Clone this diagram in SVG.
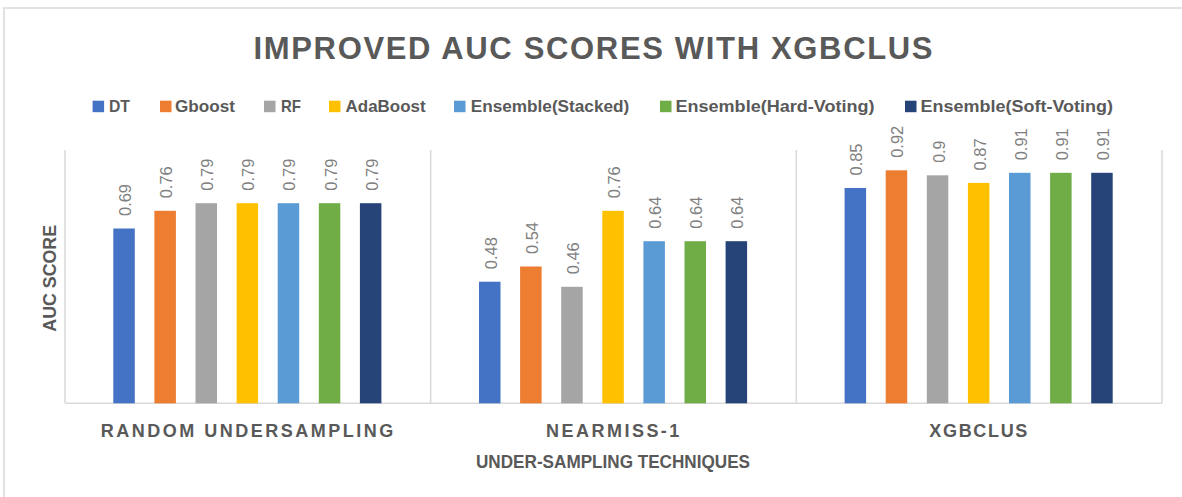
<svg xmlns="http://www.w3.org/2000/svg" width="1182" height="497" viewBox="0 0 1182 497">
<style>
.frame{fill:#fff;stroke:#d9d9d9;stroke-width:1.5}
.ax{stroke:#d9d9d9;stroke-width:1.5;fill:none}
.title{font-family:"Liberation Sans",Arial,sans-serif;font-weight:bold;font-size:31px;fill:#595959}
.leg{font-family:"Liberation Sans",Arial,sans-serif;font-weight:bold;font-size:17px;fill:#595959}
.cat{font-family:"Liberation Sans",Arial,sans-serif;font-weight:bold;font-size:18px;fill:#595959}
.axt{font-family:"Liberation Sans",Arial,sans-serif;font-weight:bold;font-size:18px;fill:#595959}
.val{font-family:"Liberation Sans",Arial,sans-serif;font-size:17px;fill:#808080}
.dt{fill:#4472C4}.gb{fill:#ED7D31}.rf{fill:#A5A5A5}.ada{fill:#FFC000}.st{fill:#5B9BD5}.hv{fill:#70AD47}.sv{fill:#264478}
</style>
<rect class="frame" x="4" y="8" width="1200" height="500"/>
<g id="title"><text class="title" x="593" y="59.3" text-anchor="middle" textLength="679" lengthAdjust="spacing">IMPROVED AUC SCORES WITH XGBCLUS</text></g>
<g id="legend">
<rect class="dt" x="92.6" y="100.7" width="11.5" height="11.5"/><text class="leg" x="109" y="112.3" textLength="21" lengthAdjust="spacingAndGlyphs">DT</text>
<rect class="gb" x="160" y="100.7" width="11.5" height="11.5"/><text class="leg" x="175" y="112.3" textLength="60" lengthAdjust="spacingAndGlyphs">Gboost</text>
<rect class="rf" x="264" y="100.7" width="11.5" height="11.5"/><text class="leg" x="281" y="112.3" textLength="20" lengthAdjust="spacingAndGlyphs">RF</text>
<rect class="ada" x="329" y="100.7" width="11.5" height="11.5"/><text class="leg" x="345.6" y="112.3" textLength="80" lengthAdjust="spacingAndGlyphs">AdaBoost</text>
<rect class="st" x="454" y="100.7" width="11.5" height="11.5"/><text class="leg" x="470.7" y="112.3" textLength="158.6" lengthAdjust="spacingAndGlyphs">Ensemble(Stacked)</text>
<rect class="hv" x="660" y="100.7" width="11.5" height="11.5"/><text class="leg" x="675.5" y="112.3" textLength="199" lengthAdjust="spacingAndGlyphs">Ensemble(Hard-Voting)</text>
<rect class="sv" x="905" y="100.7" width="11.5" height="11.5"/><text class="leg" x="920.5" y="112.3" textLength="192.5" lengthAdjust="spacingAndGlyphs">Ensemble(Soft-Voting)</text>
</g>
<g id="axes">
<path class="ax" d="M65,150V403.3M430.67,150V403.3M796.33,150V403.3M1162,150V403.3M65,403.3H1162"/>
<text class="axt" transform="translate(56,278.3) rotate(-90)" text-anchor="middle" textLength="106.7" lengthAdjust="spacingAndGlyphs" font-size="21">AUC SCORE</text>
<text class="cat" x="247" y="436.7" text-anchor="middle" textLength="292.6" lengthAdjust="spacing">RANDOM UNDERSAMPLING</text>
<text class="cat" x="612.7" y="436.7" text-anchor="middle" textLength="133.3" lengthAdjust="spacing">NEARMISS-1</text>
<text class="cat" x="978.3" y="436.7" text-anchor="middle" textLength="98" lengthAdjust="spacing">XGBCLUS</text>
<text class="axt" x="613" y="468.3" text-anchor="middle" textLength="274" lengthAdjust="spacingAndGlyphs">UNDER-SAMPLING TECHNIQUES</text>
</g>
<g id="cat-random-undersampling">
<rect class="dt" x="113.3" y="228.5" width="21.5" height="174.8"/>
<rect class="gb" x="154.4" y="210.8" width="21.5" height="192.5"/>
<rect class="rf" x="195.5" y="203.2" width="21.5" height="200.1"/>
<rect class="ada" x="236.6" y="203.2" width="21.5" height="200.1"/>
<rect class="st" x="277.7" y="203.2" width="21.5" height="200.1"/>
<rect class="hv" x="318.8" y="203.2" width="21.5" height="200.1"/>
<rect class="sv" x="359.9" y="203.2" width="21.5" height="200.1"/>
<text class="val" transform="translate(131.05,216) rotate(-90)" textLength="32" lengthAdjust="spacingAndGlyphs">0.69</text>
<text class="val" transform="translate(172.15,198.3) rotate(-90)" textLength="32" lengthAdjust="spacingAndGlyphs">0.76</text>
<text class="val" transform="translate(213.25,190.7) rotate(-90)" textLength="32" lengthAdjust="spacingAndGlyphs">0.79</text>
<text class="val" transform="translate(254.35,190.7) rotate(-90)" textLength="32" lengthAdjust="spacingAndGlyphs">0.79</text>
<text class="val" transform="translate(295.45,190.7) rotate(-90)" textLength="32" lengthAdjust="spacingAndGlyphs">0.79</text>
<text class="val" transform="translate(336.55,190.7) rotate(-90)" textLength="32" lengthAdjust="spacingAndGlyphs">0.79</text>
<text class="val" transform="translate(377.65,190.7) rotate(-90)" textLength="32" lengthAdjust="spacingAndGlyphs">0.79</text>
</g>
<g id="cat-nearmiss-1">
<rect class="dt" x="479" y="281.7" width="21.5" height="121.6"/>
<rect class="gb" x="520.1" y="266.5" width="21.5" height="136.8"/>
<rect class="rf" x="561.2" y="286.8" width="21.5" height="116.5"/>
<rect class="ada" x="602.3" y="210.8" width="21.5" height="192.5"/>
<rect class="st" x="643.4" y="241.2" width="21.5" height="162.1"/>
<rect class="hv" x="684.5" y="241.2" width="21.5" height="162.1"/>
<rect class="sv" x="725.6" y="241.2" width="21.5" height="162.1"/>
<text class="val" transform="translate(496.75,269.2) rotate(-90)" textLength="32" lengthAdjust="spacingAndGlyphs">0.48</text>
<text class="val" transform="translate(537.85,254) rotate(-90)" textLength="32" lengthAdjust="spacingAndGlyphs">0.54</text>
<text class="val" transform="translate(578.95,274.3) rotate(-90)" textLength="32" lengthAdjust="spacingAndGlyphs">0.46</text>
<text class="val" transform="translate(620.05,198.3) rotate(-90)" textLength="32" lengthAdjust="spacingAndGlyphs">0.76</text>
<text class="val" transform="translate(661.15,228.7) rotate(-90)" textLength="32" lengthAdjust="spacingAndGlyphs">0.64</text>
<text class="val" transform="translate(702.25,228.7) rotate(-90)" textLength="32" lengthAdjust="spacingAndGlyphs">0.64</text>
<text class="val" transform="translate(743.35,228.7) rotate(-90)" textLength="32" lengthAdjust="spacingAndGlyphs">0.64</text>
</g>
<g id="cat-xgbclus">
<rect class="dt" x="844.6" y="188" width="21.5" height="215.3"/>
<rect class="gb" x="885.7" y="170.3" width="21.5" height="233"/>
<rect class="rf" x="926.8" y="175.3" width="21.5" height="228"/>
<rect class="ada" x="967.9" y="182.9" width="21.5" height="220.4"/>
<rect class="st" x="1009" y="172.8" width="21.5" height="230.5"/>
<rect class="hv" x="1050.1" y="172.8" width="21.5" height="230.5"/>
<rect class="sv" x="1091.2" y="172.8" width="21.5" height="230.5"/>
<text class="val" transform="translate(862.35,175.5) rotate(-90)" textLength="32" lengthAdjust="spacingAndGlyphs">0.85</text>
<text class="val" transform="translate(903.45,157.8) rotate(-90)" textLength="32" lengthAdjust="spacingAndGlyphs">0.92</text>
<text class="val" transform="translate(944.55,162.8) rotate(-90)" textLength="22" lengthAdjust="spacingAndGlyphs">0.9</text>
<text class="val" transform="translate(985.65,170.4) rotate(-90)" textLength="32" lengthAdjust="spacingAndGlyphs">0.87</text>
<text class="val" transform="translate(1026.75,160.3) rotate(-90)" textLength="32" lengthAdjust="spacingAndGlyphs">0.91</text>
<text class="val" transform="translate(1067.85,160.3) rotate(-90)" textLength="32" lengthAdjust="spacingAndGlyphs">0.91</text>
<text class="val" transform="translate(1108.95,160.3) rotate(-90)" textLength="32" lengthAdjust="spacingAndGlyphs">0.91</text>
</g>
</svg>
